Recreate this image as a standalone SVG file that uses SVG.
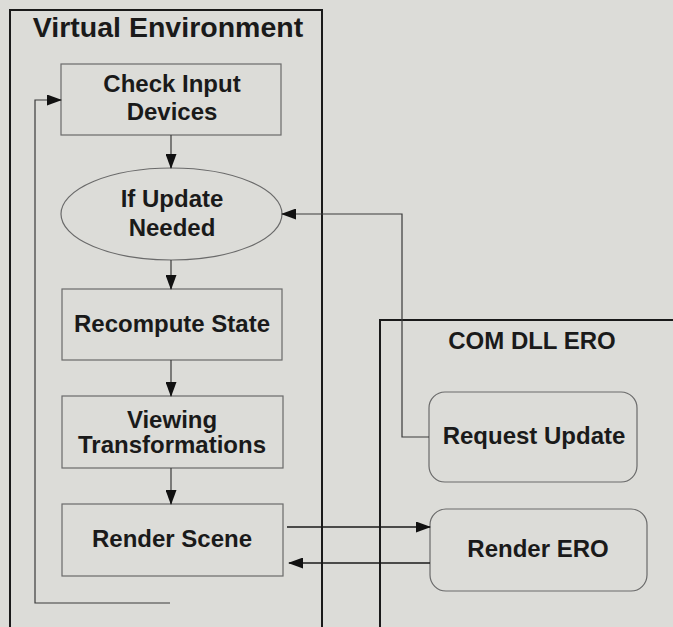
<svg xmlns="http://www.w3.org/2000/svg" width="673" height="627" viewBox="0 0 673 627">
<style>
text{font-family:"Liberation Sans",Arial,sans-serif;font-weight:bold;fill:#1a1a1a;text-anchor:middle}
.lbl{font-size:24px}
.title{font-size:28.5px}
.node{fill:#dcdcd8;stroke:#6a6a6a;stroke-width:1.2}
.cont{fill:none;stroke:#1a1a1a;stroke-width:2}
.conn{fill:none;stroke:#3a3a3a;stroke-width:1.2}
.thick{fill:none;stroke:#1a1a1a;stroke-width:1.6}
</style>
<defs>
<marker id="ah" markerWidth="15" markerHeight="11" refX="14" refY="5.5" orient="auto" markerUnits="userSpaceOnUse">
<path d="M0,0 L15,5.5 L0,11 Z" fill="#111"/>
</marker>
</defs>
<rect width="673" height="627" fill="#dcdcd8"/>
<g id="virtual-environment">
<rect class="cont" x="10" y="10" width="312" height="640"/>
<text class="title" x="168" y="37">Virtual Environment</text>
</g>
<g id="com-dll-ero">
<rect class="cont" x="380" y="320" width="320" height="330"/>
<text class="lbl" x="532" y="349">COM DLL ERO</text>
</g>
<g id="check-input">
<rect class="node" x="61" y="64" width="220" height="71"/>
<text class="lbl" x="172" y="92">Check Input</text>
<text class="lbl" x="172" y="120">Devices</text>
</g>
<g id="if-update">
<ellipse class="node" cx="171.5" cy="214" rx="110.5" ry="46"/>
<text class="lbl" x="172" y="207">If Update</text>
<text class="lbl" x="172" y="236">Needed</text>
</g>
<g id="recompute">
<rect class="node" x="62" y="289" width="220" height="71"/>
<text class="lbl" x="172" y="332">Recompute State</text>
</g>
<g id="viewing">
<rect class="node" x="62" y="396" width="221" height="72"/>
<text class="lbl" x="172" y="428">Viewing</text>
<text class="lbl" x="172" y="453">Transformations</text>
</g>
<g id="render-scene">
<rect class="node" x="62" y="504" width="221" height="72"/>
<text class="lbl" x="172" y="547">Render Scene</text>
</g>
<g id="request-update">
<rect class="node" x="429" y="392" width="208" height="90" rx="16" ry="16"/>
<text class="lbl" x="534" y="444">Request Update</text>
</g>
<g id="render-ero">
<rect class="node" x="430" y="509" width="217" height="82" rx="16" ry="16"/>
<text class="lbl" x="538" y="557">Render ERO</text>
</g>
<g id="connectors">
<line class="conn" x1="171" y1="135" x2="171" y2="168" marker-end="url(#ah)"/>
<line class="conn" x1="171" y1="260" x2="171" y2="289" marker-end="url(#ah)"/>
<line class="conn" x1="171" y1="360" x2="171" y2="396" marker-end="url(#ah)"/>
<line class="conn" x1="171" y1="468" x2="171" y2="504" marker-end="url(#ah)"/>
<polyline class="conn" points="170,603 35,603 35,100 61,100" marker-end="url(#ah)"/>
<polyline class="conn" points="429,437 402,437 402,214 282,214" marker-end="url(#ah)"/>
<line class="thick" x1="287" y1="527" x2="430" y2="527" marker-end="url(#ah)"/>
<line class="thick" x1="430" y1="563" x2="289" y2="563" marker-end="url(#ah)"/>
</g>
</svg>
